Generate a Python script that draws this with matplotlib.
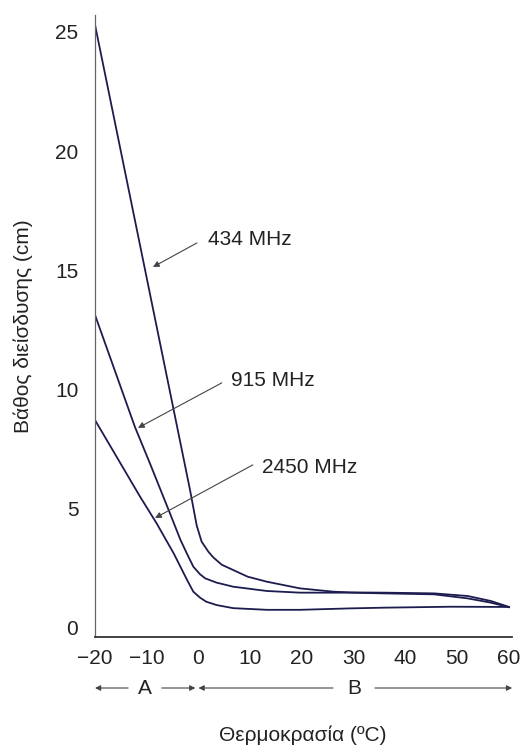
import matplotlib
matplotlib.use("Agg")
import matplotlib.pyplot as plt

plt.rcParams['font.family'] = ['Liberation Sans', 'DejaVu Sans']

# ---- data ----
x_434 = [-20, -1.64, -0.35, 0.6, 1.9, 2.9, 4.5, 6.7, 9.5, 13.2, 19.6, 26.1, 29.3, 35.8, 45.5, 52.0, 56.5, 60]
y_434 = [25.3, 5.79, 4.30, 3.62, 3.20, 2.95, 2.65, 2.43, 2.15, 1.94, 1.66, 1.52, 1.49, 1.48, 1.45, 1.34, 1.13, 0.88]

x_915 = [-20, -12.3, -9.4, -5.5, -3.5, -2.2, -1.0, 0.3, 1.3, 3.5, 6.7, 13.2, 19.6, 29.3, 35.8, 45.5, 52.0, 56.5, 60]
y_915 = [13.13, 8.44, 6.91, 4.8, 3.7, 3.1, 2.57, 2.25, 2.08, 1.90, 1.73, 1.55, 1.48, 1.48, 1.45, 1.41, 1.24, 1.06, 0.87]

x_2450 = [-20, -11.3, -8.1, -4.8, -2.2, -1.0, 0.3, 1.5, 3.5, 6.7, 13.2, 19.6, 29.3, 35.8, 48.8, 60]
y_2450 = [8.72, 5.51, 4.39, 3.13, 2.01, 1.52, 1.27, 1.10, 0.96, 0.83, 0.76, 0.76, 0.82, 0.85, 0.89, 0.88]

x_ticks = [-20, -10, 0, 10, 20, 30, 40, 50, 60]
x_ticklabels = ['\u221220', '\u221210', '0', '10', '20', '30', '40', '50', '60']
y_ticks = [0, 5, 10, 15, 20, 25]

series_labels = ['434 MHz', '915 MHz', '2450 MHz']
# (text x, text y, arrow start x, arrow start y, arrow tip x, arrow tip y)
label_pos = [(1.8, 16.3, -0.3, 16.15, -8.8, 15.14),
             (6.3, 10.36, 4.5, 10.28, -11.7, 8.39),
             (12.3, 6.75, 10.5, 6.84, -8.4, 4.61)]

xlabel = 'Θερμοκρασία (ºC)'
ylabel = 'Βάθος διείσδυσης (cm)'

# ---- figure ----
fig = plt.figure(figsize=(5.27, 7.49), dpi=100)
ax = fig.add_axes([95/527, 112/749, 417/527, 622/749])

line_color = '#1c1c4e'
for xs, ys in [(x_434, y_434), (x_915, y_915), (x_2450, y_2450)]:
    ax.plot(xs, ys, color=line_color, lw=1.3, solid_joinstyle='round')

ax.set_xlim(-20, 60.58)
ax.set_ylim(-0.38, 25.71)

for s in ['top', 'right']:
    ax.spines[s].set_visible(False)
ax.spines['left'].set_color('#666666')
ax.spines['left'].set_linewidth(0.9)
ax.spines['bottom'].set_color('#333333')
ax.spines['bottom'].set_linewidth(1.3)

ax.set_xticks(x_ticks)
ax.set_xticklabels(x_ticklabels)
ax.set_yticks(y_ticks)
ax.tick_params(axis='both', length=0, labelsize=15, colors='#222222')
ax.tick_params(axis='x', pad=9)
ax.tick_params(axis='y', pad=12)

# series annotations
for lab, (tx, ty, sx, sy, ex, ey) in zip(series_labels, label_pos):
    ax.text(tx, ty, lab, fontsize=15, color='#222222', ha='left', va='center')
    ax.annotate('', xy=(ex, ey), xytext=(sx, sy),
                arrowprops=dict(arrowstyle='-|>', color='#444444', lw=0.8,
                                mutation_scale=9, shrinkA=0, shrinkB=0))

# A / B ranges below the axis
tr = ax.get_xaxis_transform()
yb = -0.082
arrow_kw = dict(arrowstyle='-|>', color='#444444', lw=0.8, mutation_scale=8,
                shrinkA=0, shrinkB=0)
ax.annotate('', xy=(-20, yb), xytext=(-13.6, yb), xycoords=tr, textcoords=tr,
            arrowprops=arrow_kw, annotation_clip=False)
ax.text(-10.4, yb, 'A', transform=tr, ha='center', va='center', fontsize=15, color='#222222')
ax.annotate('', xy=(-0.6, yb), xytext=(-7.1, yb), xycoords=tr, textcoords=tr,
            arrowprops=arrow_kw, annotation_clip=False)
ax.annotate('', xy=(0.0, yb), xytext=(26.0, yb), xycoords=tr, textcoords=tr,
            arrowprops=arrow_kw, annotation_clip=False)
ax.text(30.1, yb, 'B', transform=tr, ha='center', va='center', fontsize=15, color='#222222')
ax.annotate('', xy=(60.6, yb), xytext=(34.1, yb), xycoords=tr, textcoords=tr,
            arrowprops=arrow_kw, annotation_clip=False)

ax.set_xlabel(xlabel, fontsize=15, color='#222222')
ax.xaxis.set_label_coords(0.499, -0.158)
ax.xaxis.label.set_va('center')
ax.set_ylabel(ylabel, fontsize=15, color='#222222')
ax.yaxis.set_label_coords(-0.173, 0.5)
ax.yaxis.label.set_va('center')

fig.savefig('out.png', dpi=100)
